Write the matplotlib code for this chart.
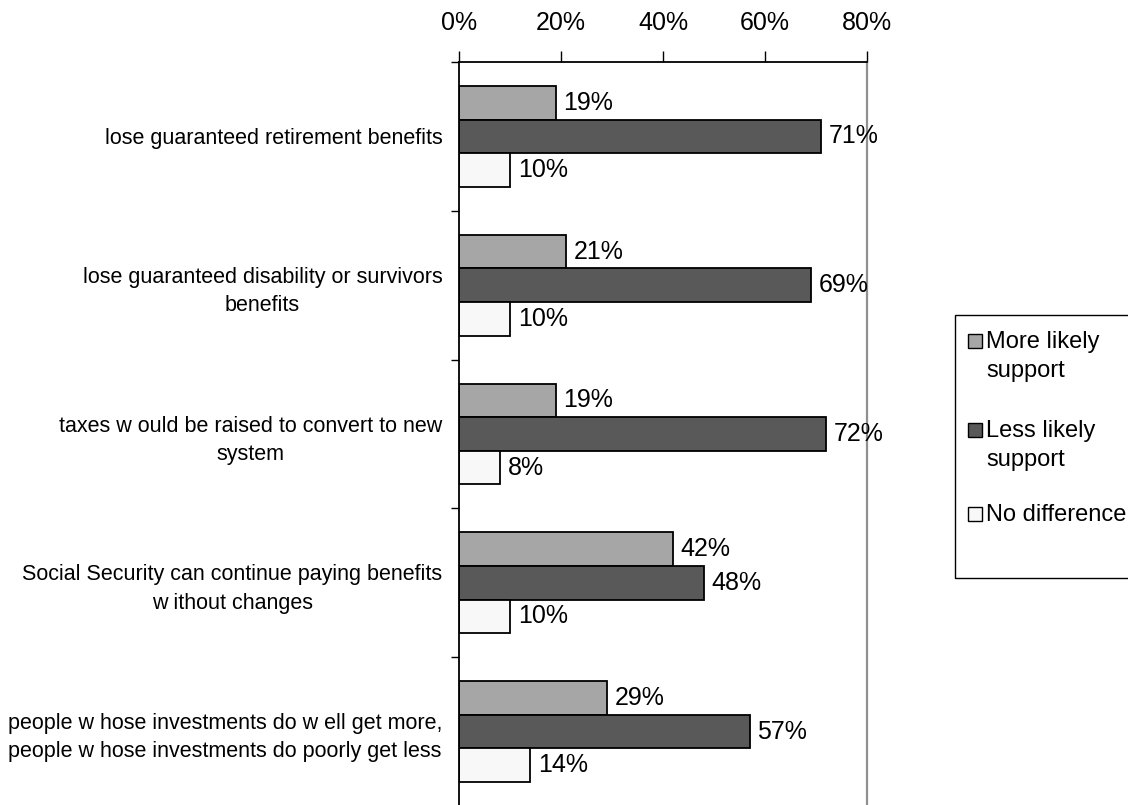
import numpy as np
import matplotlib
matplotlib.use('Agg')
import matplotlib.pyplot as plt
from matplotlib.patches import Rectangle
from matplotlib.ticker import FuncFormatter

plt.rcParams['font.family'] = ['Liberation Sans', 'DejaVu Sans']

# 类别与数据
categories = ['lose guaranteed retirement benefits',
              'lose guaranteed disability or survivors\nbenefits',
              'taxes w ould be raised to convert to new\nsystem',
              'Social Security can continue paying benefits\nw ithout changes',
              'people w hose investments do w ell get more,\npeople w hose investments do poorly get less']
more_likely = [19, 21, 19, 42, 29]
less_likely = [71, 69, 72, 48, 57]
no_diff = [10, 10, 8, 10, 14]
series_names = ['More likely\nsupport', 'Less likely\nsupport', 'No difference']
colors = ['#a6a6a6', '#595959', '#f8f8f8']

W, H = 1128, 805
fig = plt.figure(figsize=(W / 100, H / 100), dpi=100)
ax = fig.add_axes([459 / W, 1 - 806 / H, (867 - 459) / W, (806 - 62) / H])

y = np.arange(len(categories))
h = 0.226
series = [more_likely, less_likely, no_diff]
for k, vals in enumerate(series):
    pos = y + (k - 1) * h
    ax.barh(pos, vals, height=h, color=colors[k], edgecolor='black', linewidth=1.3)
    for p, v in zip(pos, vals):
        ax.text(v + 1.5, p, f"{v}%", va='center', ha='left', fontsize=18)

ax.set_xlim(0, 80)
ax.set_ylim(len(categories) - 0.5, -0.5)
ax.xaxis.tick_top()
ax.set_xticks([0, 20, 40, 60, 80])
ax.xaxis.set_major_formatter(FuncFormatter(lambda v, _: f"{int(v)}%"))
ax.tick_params(axis='x', direction='out', length=8, width=1, pad=11.5, labelsize=18)

# 分界刻度 + 类别标签
ax.set_yticks(np.arange(len(categories) + 1) - 0.5)
ax.set_yticklabels([])
ax.tick_params(axis='y', which='major', direction='out', length=6, width=1)
ax.set_yticks(y, minor=True)
ax.set_yticklabels(categories, minor=True, fontsize=15.5, multialignment='center', linespacing=1.45)
ax.tick_params(axis='y', which='minor', length=0, pad=12)

ax.spines['bottom'].set_visible(False)
ax.spines['right'].set_color('#909090')
ax.spines['right'].set_linewidth(1.6)
ax.spines['left'].set_linewidth(1.3)
ax.spines['top'].set_linewidth(1.3)

# 图例 (手动绘制, 方块与首行对齐)
fig.patches.append(Rectangle((955 / W, 1 - 578 / H), 300 / W, (578 - 315) / H,
                             transform=fig.transFigure, fill=False, edgecolor='black',
                             linewidth=1, figure=fig))
leg_y = [341, 430, 514]
for name, c, yy in zip(series_names, colors, leg_y):
    fig.patches.append(Rectangle((968 / W, 1 - (yy + 7) / H), 14 / W, 14 / H,
                                 transform=fig.transFigure, facecolor=c, edgecolor='black',
                                 linewidth=1, figure=fig))
    fig.text(986 / W, 1 - (yy - 10) / H, name, fontsize=17, va='top', ha='left',
             linespacing=1.4)

fig.savefig('out.png', dpi=100)
